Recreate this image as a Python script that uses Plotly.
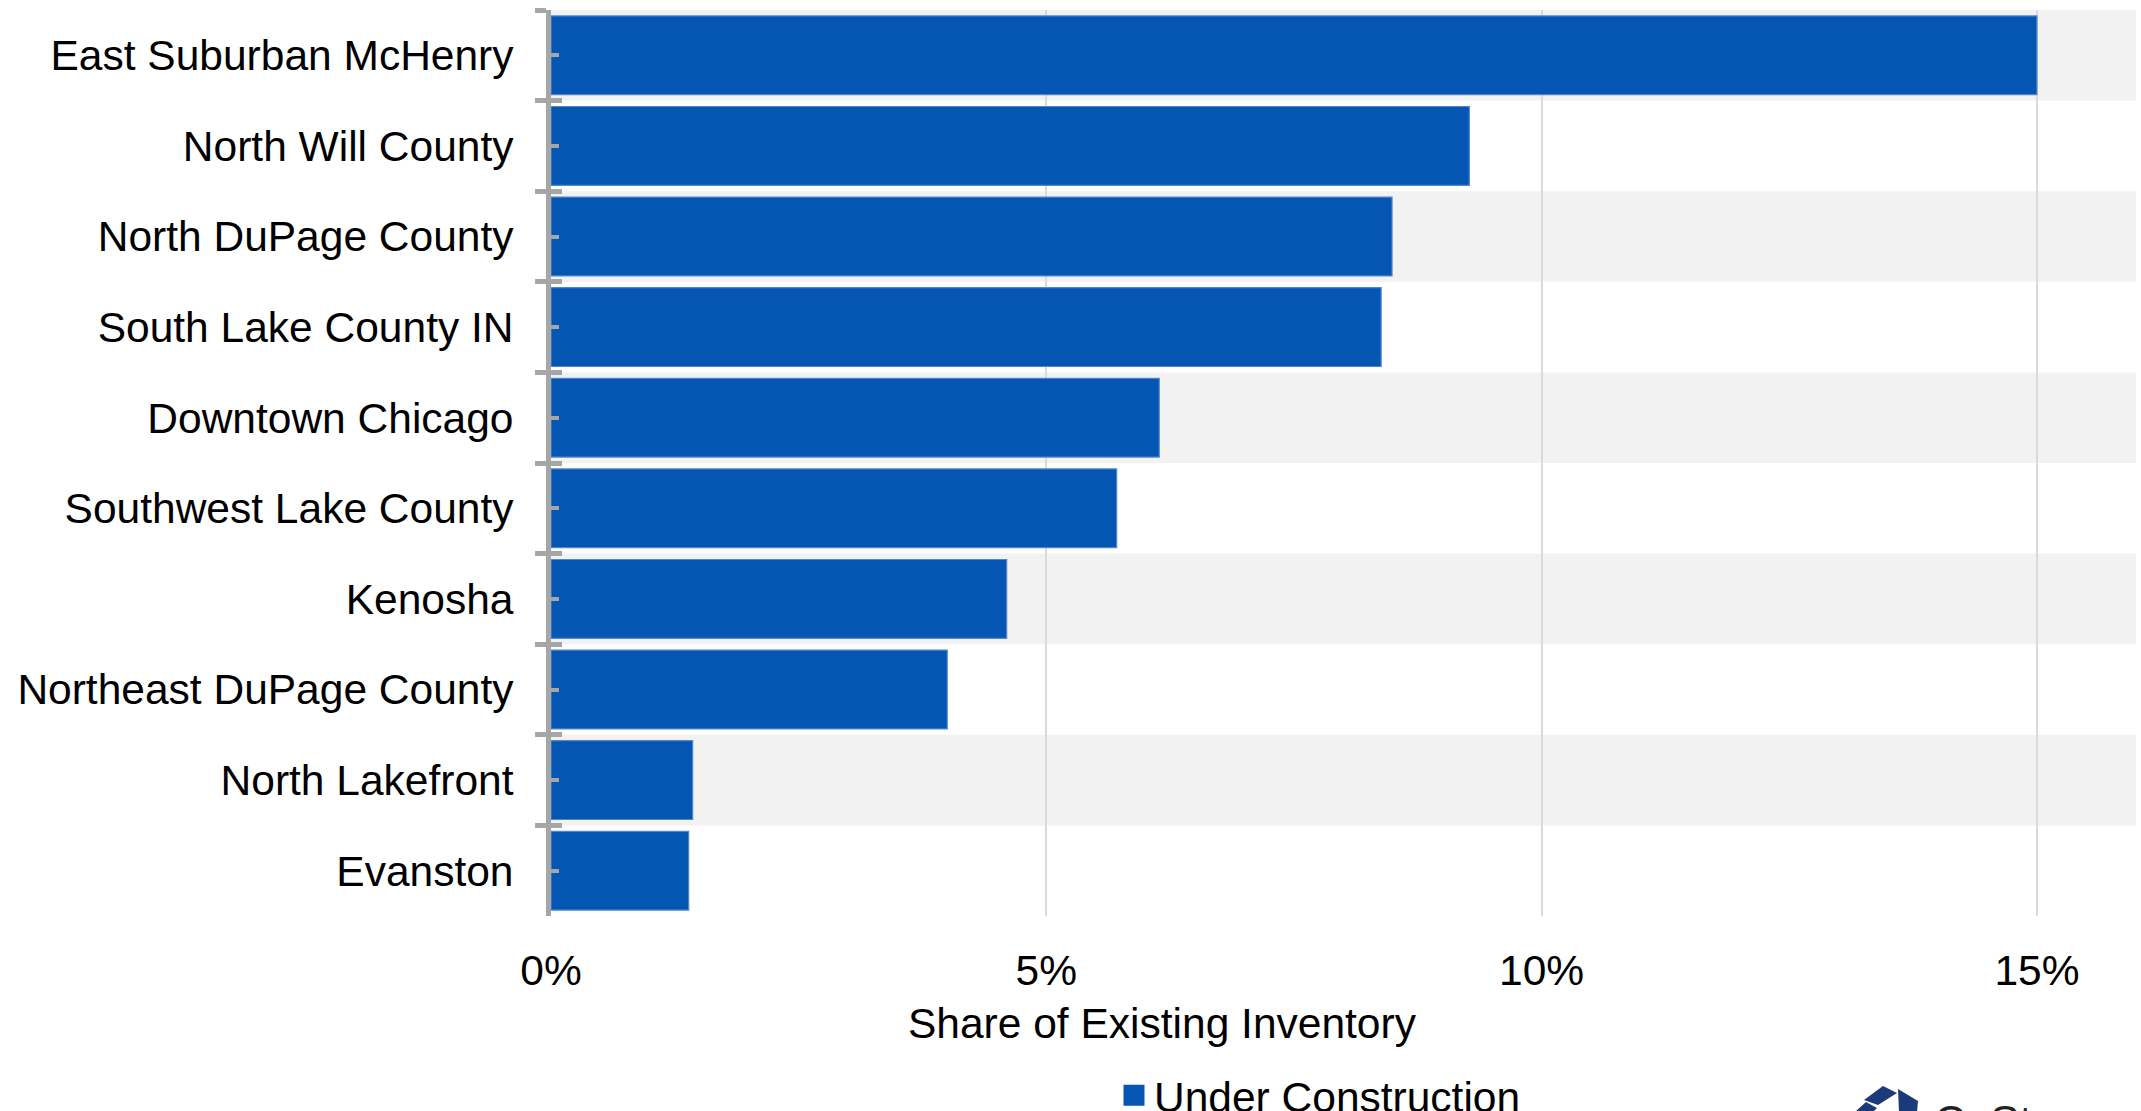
import plotly.graph_objects as go

categories = [
    "East Suburban McHenry",
    "North Will County",
    "North DuPage County",
    "South Lake County IN",
    "Downtown Chicago",
    "Southwest Lake County",
    "Kenosha",
    "Northeast DuPage County",
    "North Lakefront",
    "Evanston",
]
under_construction = [15.0, 9.27, 8.49, 8.38, 6.14, 5.71, 4.60, 4.00, 1.43, 1.39]
x_tick_vals = [0, 5, 10, 15]
x_tick_text = ["0%", "5%", "10%", "15%"]
series_name = "Under Construction"
x_title = "Share of Existing Inventory"

W, H = 2141, 1111
L, R, T, B = 551, 5, 10, 195
PW, PH = W - L - R, H - T - B

BAR = "#0556B3"
GRAY = "#A6A6A6"
FONT = "Liberation Sans, Arial, sans-serif"
FS = 42.5


def px_x(px):
    return (px - L) / PW


def px_y(py):
    return (H - B - py) / PH


fig = go.Figure()
fig.add_trace(go.Bar(
    y=categories, x=under_construction, orientation="h",
    marker=dict(color=BAR, line=dict(color="#4F86CF", width=1.2)),
    showlegend=False, hoverinfo="x+y", yaxis="y",
))
# helper invisible traces to carry categories onto overlay axes (for tick marks)
for ax in ["y2", "y3"]:
    fig.add_trace(go.Scatter(
        y=categories, x=under_construction, mode="markers",
        marker=dict(opacity=0), showlegend=False, hoverinfo="skip", yaxis=ax,
    ))
# legend entry
fig.add_trace(go.Scatter(
    x=[None], y=[None], mode="markers", name=series_name,
    marker=dict(symbol="square", size=16, color=BAR, line=dict(color=BAR, width=5)),
    showlegend=True,
))

common_y = dict(
    type="category", categoryorder="array", categoryarray=categories,
    range=[len(categories) - 0.5, -0.5], showgrid=False, zeroline=False,
)

# alternating background bands
shapes = []
for i in range(0, len(categories), 2):
    shapes.append(dict(
        type="rect", xref="paper", yref="y", x0=0, x1=1, y0=i - 0.5, y1=i + 0.5,
        fillcolor="#F2F2F2", line=dict(width=0), layer="below",
    ))

# partial logo at bottom-right (cropped in the reference)
LOGO = "#1B3A7A"
polys = [
    [(1864, 1100), (1883, 1086), (1897, 1093), (1878, 1105)],
    [(1898, 1089), (1918, 1101), (1917, 1112), (1899, 1112)],
    [(1855, 1112), (1866, 1102), (1877, 1108), (1873, 1112)],
]
for poly in polys:
    path = "M " + " L ".join(f"{px_x(a):.5f},{px_y(b):.5f}" for a, b in poly) + " Z"
    shapes.append(dict(type="path", xref="paper", yref="paper", path=path,
                       fillcolor=LOGO, line=dict(width=0), layer="above"))

fig.update_layout(
    width=W, height=H,
    margin=dict(l=L, r=R, t=T, b=B, pad=0, autoexpand=False),
    paper_bgcolor="white", plot_bgcolor="white",
    font=dict(family=FONT, size=FS, color="black"),
    bargap=0.13,
    xaxis=dict(
        range=[0, 16], tickvals=x_tick_vals, ticktext=x_tick_text,
        showgrid=True, gridcolor="#DADADA", gridwidth=2,
        zeroline=False, showline=False, ticks="",
        tickfont=dict(size=FS, family=FONT), ticklabelstandoff=25,
        automargin=False,
    ),
    yaxis=dict(
        **common_y, showline=True, linecolor=GRAY, linewidth=5,
        tickson="boundaries", ticks="outside", ticklen=11, tickwidth=5, tickcolor=GRAY,
        tickfont=dict(size=FS, family=FONT), ticklabelstandoff=24, automargin=False,
    ),
    yaxis2=dict(
        **common_y, overlaying="y", anchor="x", side="left", showline=False,
        tickson="boundaries", ticks="inside", ticklen=11, tickwidth=5, tickcolor=GRAY,
        showticklabels=False, automargin=False,
    ),
    yaxis3=dict(
        **common_y, overlaying="y", anchor="x", side="left", showline=False,
        ticks="inside", ticklen=8, tickwidth=4, tickcolor=GRAY,
        showticklabels=False, automargin=False,
    ),
    shapes=shapes,
    showlegend=True,
    legend=dict(
        xref="container", yref="container", x=1114 / W, y=(H - 1061) / H,
        xanchor="left", yanchor="top", bgcolor="rgba(0,0,0,0)",
        font=dict(size=FS, family=FONT), itemwidth=30,
    ),
    annotations=[
        dict(text=x_title, xref="paper", yref="paper", x=px_x(1162), y=px_y(1023),
             xanchor="center", yanchor="middle", showarrow=False,
             font=dict(size=FS, family=FONT, color="black")),
        dict(text="CoStar", xref="paper", yref="paper", x=px_x(1932), y=px_y(1095),
             xanchor="left", yanchor="top", showarrow=False,
             font=dict(size=44, family=FONT, color="#222222")),
    ],
)

fig.write_html("out.html", config={"responsive": False})
